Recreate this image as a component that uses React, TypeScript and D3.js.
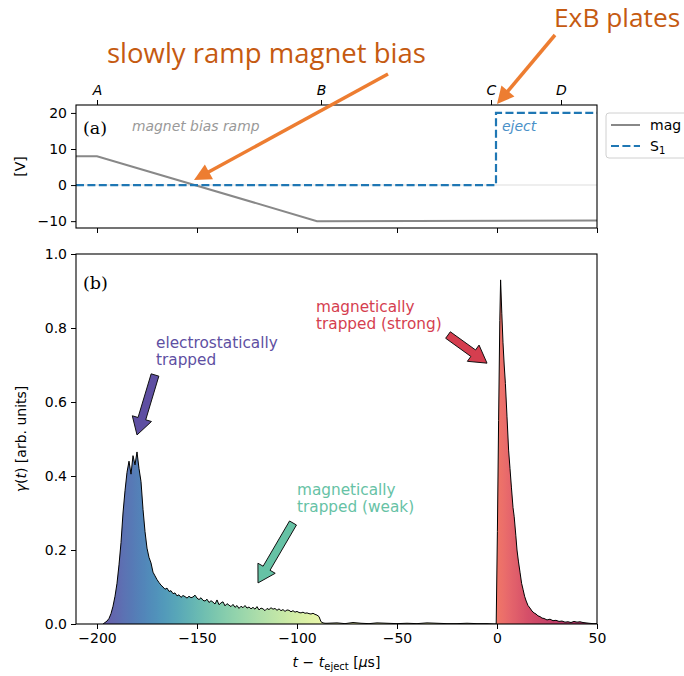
import React, { useEffect, useRef } from "react";
import * as d3 from "d3";

// top panel (a): voltages
const magT = [-210.5, -200, -90, 50];
const magV = [8, 8, -10, -9.8];
const s1T = [-210.5, -0.5, -0.5, 50];
const s1V = [0, 0, 20, 20];
const topTickNames = ["A", "B", "C", "D"];
const topTickTimes = [-200, -88, -3, 32];

// bottom panel (b): gamma(t)
const elStart = -197; // 1 us spacing
const elValues = [
  0, 0.004, 0.008, 0.015, 0.028, 0.048, 0.075, 0.11, 0.16, 0.22, 0.3, 0.36, 0.41, 0.44, 0.405,
  0.455, 0.43, 0.465, 0.42, 0.385, 0.31, 0.25, 0.205, 0.18, 0.165, 0.14, 0.13, 0.12, 0.112, 0.105,
  0.1, 0.094, 0.097, 0.088, 0.09, 0.082, 0.084, 0.076, 0.079, 0.072, 0.077, 0.074, 0.07, 0.075,
  0.071, 0.073, 0.078, 0.07, 0.066, 0.071, 0.064, 0.062, 0.067, 0.058, 0.063, 0.059, 0.054, 0.065,
  0.052, 0.057, 0.06, 0.049, 0.055, 0.051, 0.047, 0.053, 0.045, 0.05, 0.042, 0.048, 0.044, 0.05,
  0.043, 0.046, 0.041, 0.045, 0.04, 0.047, 0.038, 0.043, 0.041, 0.036, 0.042, 0.039, 0.044, 0.04,
  0.042, 0.037, 0.041, 0.036, 0.039, 0.034, 0.038, 0.037, 0.033, 0.036, 0.032, 0.034, 0.031, 0.03,
  0.032, 0.029, 0.03, 0.028, 0.027, 0.029, 0.026, 0.024, 0.02, 0.006, 0.003, 0.002,
];
const midT = [-85, -80, -76, -72, -68, -64, -60, -55, -50, -45, -40, -35, -30, -25, -20, -15, -10, -5, -1.5];
const midV = [0.002, 0.003, 0.001, 0.004, 0.002, 0.001, 0.003, 0.002, 0.001, 0.002, 0.001, 0.003, 0.002, 0.001, 0.001, 0.002, 0.001, 0.001, 0];
const peakT = [
  -0.4, 0.2, 0.8, 1.4, 1.8, 2.4, 3, 3.6, 4.2, 5, 5.8, 6.5, 7.2, 8, 8.6, 9.4, 10, 10.7, 11.5, 12.3,
  13, 13.8, 14.6, 15.5, 16.5, 17.5, 18.5, 19.5, 20.5, 21.5, 22.5, 23.5, 25, 26.5, 28, 29.5, 31,
  32.5, 34, 35.5, 37, 38.5, 40, 41.5, 43, 44.5, 46, 48, 50,
];
const peakV = [
  0, 0.25, 0.55, 0.82, 0.93, 0.84, 0.76, 0.7, 0.65, 0.56, 0.47, 0.42, 0.37, 0.315, 0.29, 0.24,
  0.2, 0.17, 0.14, 0.11, 0.094, 0.075, 0.062, 0.05, 0.043, 0.035, 0.03, 0.027, 0.022, 0.02, 0.016,
  0.015, 0.011, 0.013, 0.009, 0.01, 0.007, 0.008, 0.005, 0.006, 0.004, 0.007, 0.005, 0.006,
  0.004, 0.003, 0.002, 0.001, 0.001,
];

// annotations in data units
const notes = [
  { lines: ["electrostatically", "trapped"], color: "#5e4fa2", text: [-170.5, 0.746], tail: [-171, 0.673], tip: [-180, 0.511] },
  { lines: ["magnetically", "trapped (strong)"], color: "#d53e4f", text: [-90.5, 0.843], tail: [-24.5, 0.781], tip: [-5, 0.705] },
  { lines: ["magnetically", "trapped (weak)"], color: "#66c2a5", text: [-100, 0.349], tail: [-102, 0.273], tip: [-119.5, 0.111] },
];

const FONT = "DejaVu Sans, sans-serif";

function blockArrow(x0, y0, x1, y1, w, hw, hl) {
  const dx = x1 - x0, dy = y1 - y0;
  const L = Math.hypot(dx, dy);
  const ux = dx / L, uy = dy / L, nx = -uy, ny = ux;
  const bx = x1 - ux * hl, by = y1 - uy * hl;
  const p = [
    [x0 + nx * w / 2, y0 + ny * w / 2],
    [bx + nx * w / 2, by + ny * w / 2],
    [bx + nx * hw / 2, by + ny * hw / 2],
    [x1, y1],
    [bx - nx * hw / 2, by - ny * hw / 2],
    [bx - nx * w / 2, by - ny * w / 2],
    [x0 - nx * w / 2, y0 - ny * w / 2],
  ];
  return "M" + p.map(d => d.join(",")).join("L") + "Z";
}

const App = () => {
  const svgRef = useRef();

  useEffect(() => {
    document.body.style.margin = "0";
    const svg = d3.select(svgRef.current);
    svg.selectAll("*").remove();

    const left = 76, right = 597;
    const topA = 105, botA = 228, topB = 254, botB = 624;

    const x = d3.scaleLinear().domain([-210.5, 50]).range([left, right]);
    const yA = d3.scaleLinear().domain([-11.9, 22.2]).range([botA, topA]);
    const yB = d3.scaleLinear().domain([0, 1]).range([botB, topB]);

    const defs = svg.append("defs");
    defs.append("clipPath").attr("id", "clipA").append("rect")
      .attr("x", left).attr("y", topA).attr("width", right - left).attr("height", botA - topA);
    defs.append("clipPath").attr("id", "clipB").append("rect")
      .attr("x", left).attr("y", topB).attr("width", right - left).attr("height", botB - topB);

    // colour along time: Spectral for the early part, reds for the peak
    const redScale = d3.scaleLinear().domain([0, 6, 15, 30, 50])
      .range(["#ef6b5b", "#e45a5f", "#d2415c", "#b92a5a", "#a01e58"]).clamp(true);
    const colorOf = t => {
      if (t <= -86) return d3.interpolateSpectral(1 - (t + 197) / 111 * 0.42);
      if (t >= 0) return redScale(t);
      return "#eef3a0";
    };
    const grad = defs.append("linearGradient").attr("id", "tgrad")
      .attr("gradientUnits", "userSpaceOnUse")
      .attr("x1", x(-200)).attr("x2", x(50)).attr("y1", 0).attr("y2", 0);
    d3.range(-200, 50.1, 1).forEach(t => {
      grad.append("stop").attr("offset", (t + 200) / 250).attr("stop-color", colorOf(t));
    });

    // ---------- panel (a)
    const gA = svg.append("g");
    gA.append("line").attr("x1", left).attr("x2", right).attr("y1", yA(0)).attr("y2", yA(0))
      .attr("stroke", "#e8e8e8").attr("stroke-width", 1.5);
    const lineA = d3.line().x(d => x(d[0])).y(d => yA(d[1]));
    gA.append("path").attr("clip-path", "url(#clipA)")
      .attr("d", lineA(magT.map((t, i) => [t, magV[i]])))
      .attr("fill", "none").attr("stroke", "#888").attr("stroke-width", 2);
    gA.append("path").attr("clip-path", "url(#clipA)")
      .attr("d", lineA(s1T.map((t, i) => [t, s1V[i]])))
      .attr("fill", "none").attr("stroke", "#1f77b4").attr("stroke-width", 2.2)
      .attr("stroke-dasharray", "8,3.4");

    gA.append("text").attr("x", 83).attr("y", 134).attr("font-family", "DejaVu Serif, serif")
      .attr("font-size", 17.5).text("(a)");
    gA.append("text").attr("x", 132).attr("y", 131).attr("font-family", FONT).attr("font-style", "italic")
      .attr("font-size", 13.9).attr("fill", "#999").text("magnet bias ramp");
    gA.append("text").attr("x", 502).attr("y", 131).attr("font-family", FONT).attr("font-style", "italic")
      .attr("font-size", 14).attr("fill", "#4a90c8").text("eject");

    const axLeftA = gA.append("g").attr("transform", `translate(${left},0)`)
      .call(d3.axisLeft(yA).tickValues([-10, 0, 10, 20]).tickSize(5).tickPadding(4));
    const axBotA = gA.append("g").attr("transform", `translate(0,${botA})`)
      .call(d3.axisBottom(x).tickValues([-200, -150, -100, -50, 0, 50]).tickSize(5).tickFormat(""));
    const axTopA = gA.append("g").attr("transform", `translate(0,${topA})`)
      .call(d3.axisTop(x).tickValues(topTickTimes).tickSize(5).tickPadding(5)
        .tickFormat((d, i) => topTickNames[i]));
    axTopA.selectAll("text").attr("font-style", "italic");
    gA.append("rect").attr("x", left).attr("y", topA).attr("width", right - left).attr("height", botA - topA)
      .attr("fill", "none").attr("stroke", "#000").attr("stroke-width", 1.1);
    gA.append("text").attr("transform", `translate(25,${(topA + botA) / 2}) rotate(-90)`)
      .attr("text-anchor", "middle").attr("font-family", FONT).attr("font-size", 14).text("[V]");

    // legend (runs off the page edge like the original)
    const lg = svg.append("g").attr("transform", "translate(606,113)");
    lg.append("rect").attr("width", 100).attr("height", 45).attr("rx", 3)
      .attr("fill", "#fff").attr("stroke", "#d0d0d0");
    lg.append("line").attr("x1", 5).attr("x2", 34).attr("y1", 12).attr("y2", 12)
      .attr("stroke", "#888").attr("stroke-width", 2);
    lg.append("line").attr("x1", 5).attr("x2", 34).attr("y1", 33).attr("y2", 33)
      .attr("stroke", "#1f77b4").attr("stroke-width", 2.2).attr("stroke-dasharray", "8,3.4");
    lg.append("text").attr("x", 44).attr("y", 17).attr("font-family", FONT).attr("font-size", 14).text("mag");
    const s1 = lg.append("text").attr("x", 44).attr("y", 38).attr("font-family", FONT).attr("font-size", 14);
    s1.append("tspan").text("S");
    s1.append("tspan").attr("font-size", 10).attr("dy", 3).text("1");

    // ---------- panel (b)
    const gB = svg.append("g");
    const pts = [
      ...elValues.map((v, i) => [elStart + i, v]),
      ...midT.map((t, i) => [t, midV[i]]),
      ...peakT.map((t, i) => [t, peakV[i]]),
    ];
    const area = d3.area().x(d => x(d[0])).y0(yB(0)).y1(d => yB(d[1]));
    const line = d3.line().x(d => x(d[0])).y(d => yB(d[1]));
    gB.append("path").attr("clip-path", "url(#clipB)").attr("d", area(pts))
      .attr("fill", "url(#tgrad)").attr("fill-opacity", 0.92);
    gB.append("path").attr("clip-path", "url(#clipB)").attr("d", line(pts))
      .attr("fill", "none").attr("stroke", "#000").attr("stroke-width", 1).attr("stroke-linejoin", "round");

    gB.append("text").attr("x", 83).attr("y", 289).attr("font-family", "DejaVu Serif, serif")
      .attr("font-size", 17.5).text("(b)");

    notes.forEach(n => {
      const t = gB.append("text").attr("font-family", FONT).attr("font-size", 15.3).attr("fill", n.color);
      n.lines.forEach((s, i) => {
        t.append("tspan").attr("x", x(n.text[0])).attr("y", yB(n.text[1]) + i * 17).text(s);
      });
      gB.append("path")
        .attr("d", blockArrow(x(n.tail[0]), yB(n.tail[1]), x(n.tip[0]), yB(n.tip[1]), 8, 20, 17))
        .attr("fill", n.color).attr("stroke", "#111").attr("stroke-width", 1).attr("stroke-linejoin", "miter");
    });

    const axLeftB = gB.append("g").attr("transform", `translate(${left},0)`)
      .call(d3.axisLeft(yB).tickValues([0, 0.2, 0.4, 0.6, 0.8, 1]).tickFormat(d3.format(".1f")).tickSize(5).tickPadding(4));
    const axBotB = gB.append("g").attr("transform", `translate(0,${botB})`)
      .call(d3.axisBottom(x).tickValues([-200, -150, -100, -50, 0, 50]).tickSize(5).tickPadding(4));
    gB.append("rect").attr("x", left).attr("y", topB).attr("width", right - left).attr("height", botB - topB)
      .attr("fill", "none").attr("stroke", "#000").attr("stroke-width", 1.1);

    const yl = gB.append("text").attr("transform", `translate(26,${(topB + botB) / 2}) rotate(-90)`)
      .attr("text-anchor", "middle").attr("font-family", FONT).attr("font-size", 14);
    yl.append("tspan").attr("font-style", "italic").text("γ");
    yl.append("tspan").text("(");
    yl.append("tspan").attr("font-style", "italic").text("t");
    yl.append("tspan").text(") [arb. units]");

    const xl = gB.append("text").attr("x", (left + right) / 2).attr("y", 667)
      .attr("text-anchor", "middle").attr("font-family", FONT).attr("font-size", 14);
    xl.append("tspan").attr("font-style", "italic").text("t");
    xl.append("tspan").text(" − ");
    xl.append("tspan").attr("font-style", "italic").text("t");
    xl.append("tspan").attr("font-size", 10).attr("dy", 3).text("eject");
    xl.append("tspan").attr("dy", -3).text(" [");
    xl.append("tspan").attr("font-style", "italic").text("μ");
    xl.append("tspan").text("s]");

    [axLeftA, axBotA, axTopA, axLeftB, axBotB].forEach(a => {
      a.select(".domain").remove();
      a.selectAll("text").attr("font-family", FONT).attr("font-size", 14).attr("fill", "#000");
      a.selectAll("line").attr("stroke", "#000").attr("stroke-width", 1);
    });

    // ---------- slide overlay callouts
    const ov = svg.append("g");
    const orange = "#ed7d31";
    const callout = (x0, y0, x1, y1) => {
      const L = Math.hypot(x1 - x0, y1 - y0);
      const ux = (x1 - x0) / L, uy = (y1 - y0) / L;
      const hl = 17, hw = 17;
      const bx = x1 - ux * hl, by = y1 - uy * hl;
      ov.append("line").attr("x1", x0).attr("y1", y0).attr("x2", bx + ux * 2).attr("y2", by + uy * 2)
        .attr("stroke", orange).attr("stroke-width", 3.5);
      ov.append("path").attr("fill", orange)
        .attr("d", `M${x1},${y1}L${bx - uy * hw / 2},${by + ux * hw / 2}L${bx + uy * hw / 2},${by - ux * hw / 2}Z`);
    };
    callout(388, 74, 194, 180);
    callout(555, 35, 497, 104);
    ov.append("text").attr("x", 107).attr("y", 63).attr("font-family", "Open Sans, sans-serif")
      .attr("font-size", 27.5).attr("fill", "#c55a11").text("slowly ramp magnet bias");
    ov.append("text").attr("x", 554).attr("y", 27).attr("font-family", "Open Sans, sans-serif")
      .attr("font-size", 26.3).attr("fill", "#c55a11").text("ExB plates");
  }, []);

  return <svg ref={svgRef} width="684" height="676" style={{ display: "block", background: "#fff" }}></svg>;
};

export default App;
